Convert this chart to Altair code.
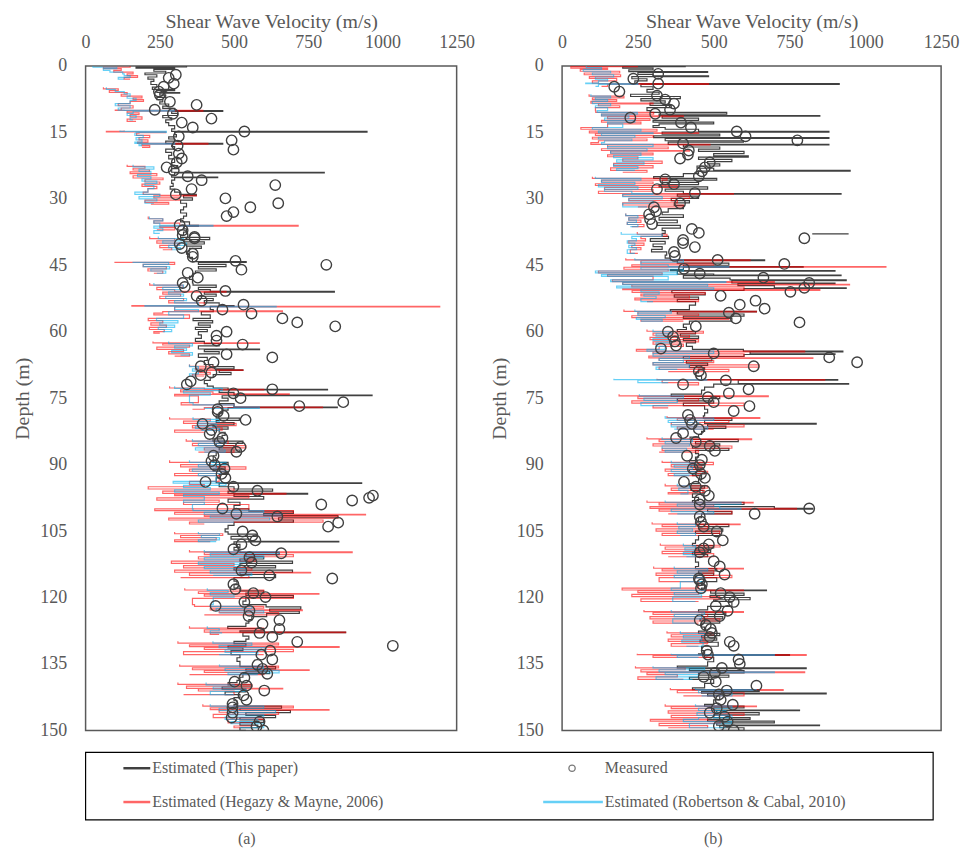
import altair as alt
import pandas as pd

FONT = "Liberation Serif, Times New Roman, serif"
GREY = "#595959"
X_TICKS = [0, 250, 500, 750, 1000, 1250]
Y_TICKS = list(range(0, 151, 15))

# ---------------- Panel (a) ----------------
# (depth m, Vs m/s); None marks a gap in the profile
a_black = [
    (0, 340), (0.2, 170), (0.5, 300), (0.8, 230), (1.2, 270), (1.6, 200), (2, 240), (2.5, 210), (3, 230), (3.5, 220),
    (4.2, 240), (4.8, 225), (5.3, 300), (5.6, 240), (6, 317), (6.15, 250), (6.6, 270), (7.1, 240), (7.6, 260), (8.1, 250),
    (8.6, 280), (9.1, 260), (9.6, 300), (10.1, 462), (10.25, 290), (10.7, 310), (11.2, 260), (11.7, 290), (12.2, 270),
    (12.8, 280), (13.5, 300), (14.2, 290), (14.8, 948), (14.95, 300), (15.5, 306), (16, 280), (16.5, 300), (17, 270),
    (17.5, 462), (17.65, 290), (18.2, 300), (18.8, 270), (19.5, 290), (20.2, 280), (21, 300), (21.8, 290), (22.5, 310),
    (23.2, 290), (24, 804), (24.15, 300), (24.6, 290), (25.1, 445), (25.25, 300), (25.8, 290), (26.5, 295), (27.2, 285),
    (27.8, 300), (28.5, 317), (29, 373), (29.3, 330), (29.8, 360), (30.3, 320), (31, 340), (31.8, 330), (32.5, 320),
    (33.2, 340), (33.9, 330), (34.5, 320), (35.2, 350), (36, 380), (36.15, 330), (36.8, 340), (37.5, 330), (38.2, 320),
    (38.7, 418), (39.2, 330), (39.7, 400), (40.2, 340), (40.7, 390), (41.2, 350), (41.8, 340), (42.5, 350), (43.2, 360),
    (44.2, 541), (44.35, 380), (44.8, 473), (45.3, 380), (45.8, 440), (46.3, 370), (46.8, 362), (47.5, 350), (48.2, 360),
    (49, 362), (49.5, 440), (50, 380), (50.5, 420), (50.9, 838), (51.05, 400), (51.5, 440), (52, 380), (52.5, 430),
    (53, 400), (53.5, 450), (54.1, 500), (54.3, 420), (55, 430), (55.5, 390), (56.2, 420), (57, 362), (57.5, 428),
    (58, 380), (58.5, 420), (59, 370), (59.5, 410), (60, 380), (60.7, 390), (61.5, 370), (62.2, 400), (62.7, 450),
    (63.2, 380), (63.9, 586), (64.05, 400), (64.5, 450), (65, 380), (65.8, 410), (66.5, 400), (67.4, 429), (67.9, 500),
    (68.4, 440), (68.6, 530), (68.75, 450), (69.2, 490), (69.7, 430), (70.3, 420), (71, 400), (71.7, 410), (72.3, 430),
    (72.7, 480), (73, 815), (73.15, 450), (73.7, 500), (74.3, 965), (74.45, 460), (75, 480), (75.6, 450), (76.2, 500),
    (77, 848), (77.15, 480), (77.7, 460), (78.3, 450), (79, 440), (79.5, 518), (80, 440), (80.5, 500), (81, 429),
    (81.5, 480), (82, 450), (82.7, 470), (83.4, 460), (84.2, 429), (84.7, 530), (85.2, 440), (85.7, 500), (86.2, 450),
    (86.7, 520), (87.2, 440), (88, 430), (89, 429), (89.5, 480), (90, 440), (90.5, 470), (91, 430), (91.5, 480),
    (92.2, 450), (93, 440), (94.1, 930), (94.25, 450), (95, 500), (95.5, 630), (96, 480), (96.5, 748), (96.65, 500),
    (97.2, 600), (97.8, 480), (98.5, 520), (99.2, 500), (100, 550), (100.5, 700), (101, 600), (101.5, 850), (102, 650),
    (102.5, 700), (103, 500), (103.7, 480), (104.5, 470), (105.2, 480), (105.7, 575), (106.2, 490), (106.8, 550),
    (107.3, 853), (107.45, 500), (108, 520), (108.7, 500), (109.3, 520), (109.8, 652), (110.3, 540), (110.8, 600),
    (111.3, 520), (111.8, 697), (112.3, 520), (112.8, 640), (113.3, 500), (113.8, 697), (114.3, 520), (114.8, 640),
    (115.5, 500), (116.3, 510), (117.1, 500), (117.9, 520), (118.5, 600), (119, 540), (119.5, 700), (120, 540),
    (120.8, 530), (121.6, 608), (122.1, 725), (122.6, 620), (123.1, 720), (123.6, 610), (124.3, 560), (125, 550),
    (125.8, 540), (126.5, 479), (127, 600), (127.5, 520), (127.8, 876), (127.95, 530), (128.7, 550), (129.4, 540),
    (129.9, 500), (130.4, 540), (130.9, 480), (131.4, 530), (132, 490), (132.9, 520), (133.6, 510), (134.4, 520),
    (135.1, 520), (135.6, 640), (136.1, 540), (136.6, 620), (137.2, 530), (138, 520), (138.7, 510), (139.2, 480),
    (139.7, 560), (140.2, 460), (140.7, 540), (141.3, 470), (141.9, 520), (142.6, 500), (143.3, 510), (144.1, 500),
    (144.5, 660), (145, 520), (145.5, 690), (146, 540), (146.6, 640), (147.1, 520), (147.6, 600), (148.2, 520),
    (148.8, 580), (149.4, 520), (150, 540),
]

a_hegazy = [
    (0, 150), (0.3, 60), (0.6, 120), (1, 95), (1.4, 160), (1.8, 140), (2.2, 175), (2.6, 130), (3, 150), None,
    (4.8, 60), (5.2, 110), (5.6, 80), (6, 140), (6.4, 120), (6.8, 190), (7.2, 160), (7.6, 195), (8, 150), (8.5, 110),
    (9, 160), (9.5, 120), (10, 100), (10.05, 395), (10.2, 140), (10.6, 180), (11, 150), (11.5, 190), (12, 140),
    (12.5, 170), None,
    (14.6, 130), (14.8, 70), (14.9, 270), (15.05, 180), (15.2, 172), (15.7, 216), (16.2, 180), (16.7, 210),
    (17.2, 175), (17.5, 412), (17.65, 190), (18, 216), (18.4, 190), None,
    (22.3, 140), (22.7, 200), (23.1, 160), (23.5, 215), (23.9, 150), (24.3, 240), (24.8, 160), (25.3, 261),
    (25.7, 200), (26.2, 250), (26.7, 190), (27.2, 240), (27.7, 210), (28.5, 194), (29, 250), (29.2, 373),
    (29.35, 230), (29.8, 317), (30.3, 200), (30.8, 280), (31.2, 220), None,
    (34, 211), (34.5, 260), (35, 230), (35.5, 317), (36, 716), (36.15, 250), (36.5, 300), (37, 240), None,
    (38.5, 216), (39, 300), (39.5, 240), (40, 317), (40.5, 250), (41, 290), (41.5, 260), None,
    (44.2, 99), (44.35, 300), (44.8, 194), (45.3, 272), (45.8, 210), (46.3, 260), (46.8, 230), None,
    (49, 216), (49.5, 328), (50, 240), (50.5, 300), (50.9, 473), (51.05, 260), (51.5, 320), (52, 250), (52.5, 330),
    (53, 280), (53.5, 400), (54.1, 156), (54.25, 1193), (54.4, 300), (55.3, 663), (55.45, 260), (55.8, 230),
    (56.2, 350), (57, 211), (57.5, 260), (58, 220), (58.5, 272), (59, 215), (59.5, 265), (60, 230), (60.3, 250), None,
    (62.2, 227), (62.5, 585), (62.65, 260), (63, 350), (63.5, 240), (64, 330), (64.5, 280), (65, 350), (65.5, 300), None,
    (67.4, 350), (67.8, 429), (68.2, 370), (68.6, 530), (68.75, 380), (69.2, 420), (69.6, 360), (70, 400), None,
    (72.3, 283), (72.7, 400), (73, 600), (73.15, 320), (73.6, 429), (74, 686), (74.15, 300), (74.5, 380),
    (76, 322), (76.5, 500), (77, 798), (77.15, 400), (77.5, 360), None,
    (79.3, 283), (79.7, 420), (80.2, 330), (80.7, 507), (81.2, 360), (81.7, 460), (82.2, 300), (82.7, 400), None,
    (84.2, 339), (84.7, 480), (85.2, 360), (85.7, 540), (86.2, 400), (86.7, 500), (87.2, 380), None,
    (89, 283), (89.5, 420), (90, 320), (90.5, 540), (91, 350), (91.5, 470), (92, 300), (92.5, 450), (93.8, 350),
    (94.5, 400), (95, 211), (95.5, 500), (96, 260), (96.5, 675), (96.65, 300), (97, 550), (97.5, 240), (98, 450),
    (98.5, 330), (99, 550), (100, 233), (100.4, 700), (100.8, 300), (101.2, 943), (101.35, 400), (101.7, 850),
    (102.1, 280), (102.5, 800), (103, 350), (103.4, 400), None,
    (105.2, 300), (105.6, 462), (106, 320), (106.5, 440), (107, 300), (107.4, 420), None,
    (109.3, 350), (109.7, 898), (109.85, 400), (110.3, 700), (110.8, 380), (111.3, 574), (111.8, 289), (112.3, 500),
    (112.8, 330), (113.3, 560), (113.8, 300), (114.3, 758), (114.45, 350), (115, 550), (115.5, 320), None,
    (117.9, 334), (118.3, 600), (118.7, 380), (119.1, 786), (119.25, 400), (119.7, 700), (120.2, 360),
    (121.6, 367), (122, 600), (122.4, 420), (122.8, 730), (122.95, 450), (123.4, 650), (123.9, 400), None,
    (126.5, 350), (126.9, 600), (127.3, 400), (127.8, 876), (127.95, 420), (128.3, 450), None,
    (129.9, 311), (130.3, 650), (130.7, 350), (131.1, 854), (131.25, 400), (131.7, 700), (132.2, 330), (132.9, 600), None,
    (135.1, 317), (135.5, 650), (135.9, 360), (136.3, 753), (136.45, 400), (136.9, 600), (137.4, 350), None,
    (139.2, 311), (139.6, 560), (140, 340), (140.5, 664), (140.65, 380), (141.1, 500), (141.9, 330), None,
    (144.1, 395), (144.5, 700), (144.9, 420), (145.3, 820), (145.45, 450), (145.9, 650), (146.4, 430), (147.1, 600),
    (147.5, 480), (148.3, 560), (149, 500), (149.4, 520),
]

a_robertson = [
    (0, 25), (0.3, 105), (0.6, 60), (1, 82), (1.4, 125), (1.8, 130), (2.2, 150), (2.6, 110), (3, 130), None,
    (4.8, 70), (5.3, 100), (5.8, 130), (6.3, 150), (6.8, 140), (7.3, 170), (7.8, 150), (8.5, 100), (9, 150),
    (9.5, 110), (10, 130), (10.05, 300), (10.2, 160), (10.7, 140), (11.2, 170), (11.7, 150), (12.2, 160), None,
    (14.6, 116), (14.8, 272), (15, 170), (15.2, 166), (15.7, 194), (16.2, 170), (16.7, 190), (17.2, 166),
    (17.5, 300), (17.65, 180), (18, 190), None,
    (22.3, 160), (22.8, 230), (23.3, 180), (23.8, 220), (24.5, 175), (25, 220), (25.5, 190), (26, 240), (26.5, 200),
    (27, 230), (27.7, 210), (28.5, 166), (29, 250), (29.5, 180), (30, 240), (30.5, 200), (31, 230), None,
    (34, 215), (34.5, 260), (35, 230), (35.5, 250), (36, 429), (36.15, 230), (36.6, 260), (37.2, 230), (37.8, 250), None,
    (38.5, 245), (39, 330), (39.5, 260), (40, 340), (40.5, 280), (41, 320), (41.5, 290), None,
    (44.2, 160), (44.35, 280), (44.8, 194), (45.3, 283), (45.8, 220), (46.3, 270), (46.8, 240), None,
    (49, 230), (49.5, 330), (50, 260), (50.5, 320), (51, 280), (51.5, 330), (52, 270), (52.5, 340), (53, 300),
    (53.5, 380), (54.1, 200), (54.25, 642), (54.4, 300), (55, 380), (55.5, 280), (56.2, 330), (57, 239), (57.5, 311),
    (58, 250), (58.5, 300), (59, 245), (59.5, 290), (60, 260), None,
    (62.2, 280), (62.7, 360), (63.2, 300), (63.7, 340), (64.2, 290), (64.7, 360), (65.3, 320), None,
    (67.4, 350), (67.9, 380), (68.4, 360), (68.9, 380), (69.5, 350), (70, 370), None,
    (72.3, 300), (72.8, 460), (73.3, 330), (73.8, 420), (74.3, 350), (76, 362), (76.5, 500), (77, 585), (77.3, 400), None,
    (79.3, 362), (79.8, 451), (80.3, 380), (80.8, 440), (81.3, 370), (81.8, 451), (82.3, 390), None,
    (84.2, 360), (84.7, 473), (85.2, 380), (85.7, 460), (86.2, 370), (86.7, 470), (87.2, 400), None,
    (89, 350), (89.5, 473), (90, 380), (90.5, 440), (91, 360), (91.5, 473), (92, 380), (92.5, 440), (93.8, 295),
    (94.2, 473), (94.7, 330), (95.2, 420), (95.7, 300), (96.2, 450), (96.7, 330), (97.2, 400), (98, 330), (98.5, 400),
    (99, 360), (100, 362), (100.4, 600), (100.8, 400), (101.2, 663), (101.6, 420), (102, 620), (102.5, 380),
    (103, 500), None,
    (105.2, 380), (105.6, 451), (106, 390), (106.5, 451), (107, 380), (107.4, 440), None,
    (109.3, 400), (109.7, 652), (110.1, 420), (110.6, 600), (111, 400), (111.5, 540), (112, 380), (112.5, 520),
    (113, 400), (113.5, 540), (114, 420), (114.5, 560), (115, 430), None,
    (117.9, 410), (118.4, 480), (118.9, 420), (119.4, 500), (119.9, 430), (121.6, 420), (122, 560), (122.5, 440),
    (123, 600), (123.5, 450), None,
    (126.5, 410), (127, 450), (127.5, 420), (128, 460), None,
    (129.9, 429), (130.3, 560), (130.8, 450), (131.3, 608), (131.8, 470), (132.4, 580), (132.9, 450), None,
    (135.1, 451), (135.5, 600), (136, 470), (136.5, 652), (137, 480), (137.4, 580), None,
    (139.2, 406), (139.7, 500), (140.2, 430), (140.7, 540), (141.2, 420), (141.9, 500), None,
    (144.1, 420), (144.5, 600), (145, 450), (145.5, 640), (146, 480), (146.5, 600), (147, 470), (147.5, 580),
    (148, 490), (148.5, 600), (149.4, 520),
]

a_meas_depth = [
    2.0, 2.7, 4.0, 4.7, 5.8, 6.5, 8.1, 8.8, 9.9, 10.8, 11.9, 12.8, 13.9, 14.8, 15.9, 16.8, 18.9, 18.0, 19.8, 20.9,
    21.8, 22.9, 23.6, 24.9, 25.8, 27.8, 29.0, 26.9, 31.0, 29.9, 31.9, 33.0, 33.9, 35.9, 37.1, 38.6, 38.2, 38.9,
    40.2, 41.1, 42.4, 43.1, 44.0, 46.0, 46.7, 47.8, 49.0, 49.9, 50.8, 51.9, 53.0, 53.9, 55.0, 55.9, 60.0, 60.9,
    62.0, 62.9, 65.8, 65.1, 66.9, 67.8, 69.8, 69.2, 71.2, 71.9, 73.0, 73.9, 75.0, 77.5, 44.9, 57.0, 57.9, 58.8,
    76.8, 75.9, 78.1, 79.0, 79.9, 80.8, 82.2, 83.1, 84.0, 84.9, 86.0, 87.1, 88.0, 89.2, 90.1, 90.9, 92.1, 93.0,
    93.9, 95.0, 95.9, 99.0, 98.1, 97.5, 97.0, 99.9, 101.1, 101.7, 103.1, 104.0, 105.1, 106.0, 107.1, 108.0,
    109.1, 110.0, 110.9, 112.1, 113.9, 115.0, 115.7, 117.0, 118.1, 119.0, 119.9, 121.0, 121.9, 123.0, 124.2,
    125.1, 126.0, 127.1, 128.0, 128.9, 130.0, 130.9, 132.0, 132.9, 134.0, 135.2, 136.1, 137.2, 138.1, 139.0,
    139.9, 141.0, 142.1, 143.1, 144.0, 144.8, 146.0, 147.1, 148.0, 149.1, 150.0,
]
a_meas_vs = [
    304, 280, 297, 263, 247, 250, 284, 374, 233, 294, 424, 324, 361, 535, 314, 492, 498, 310, 314, 324,
    307, 273, 297, 344, 391, 357, 304, 639, 649, 471, 555, 498, 475, 317, 327, 367, 327, 367,
    317, 324, 361, 361, 505, 525, 344, 378, 327, 334, 471, 374, 391, 532, 461, 559, 475, 441,
    441, 529, 629, 475, 431, 388, 388, 424, 354, 341, 629, 498, 522, 445, 811, 663, 713, 841,
    720, 868, 445, 465, 539, 394, 424, 418, 461, 451, 522, 508, 431, 424, 435, 468, 458, 471,
    404, 498, 579, 794, 898, 955, 968, 461, 508, 646, 851, 817, 529, 562, 572, 525,
    498, 659, 552, 559, 525, 619, 831, 498, 505, 565, 606, 535, 438, 552, 549,
    653, 596, 653, 586, 629, 713, 1035, 622, 592, 629, 579, 596, 612, 535, 502,
    542, 602, 532, 542, 495, 495, 495, 492, 586, 576, 599,
]

# ---------------- Panel (b) ----------------
b_black = [
    (0, 406), (0.15, 200), (0.5, 300), (0.9, 220), (1.3, 480), (1.45, 250), (1.9, 300), (2.25, 483), (2.4, 230),
    (2.9, 280), (3.4, 240), (4, 914), (4.15, 260), (4.7, 300), (5.3, 280), (5.9, 320), (6.4, 226), (6.9, 390),
    (7.4, 260), (7.9, 340), (8.4, 290), (8.9, 360), (9.4, 280), (10.1, 291), (10.5, 543), (10.9, 320), (11.2, 850),
    (11.35, 330), (11.8, 450), (12.3, 300), (12.7, 500), (13.1, 320), (13.5, 300), (13.9, 340), (14.3, 450),
    (14.8, 880), (14.95, 330), (15.4, 520), (15.8, 302), (16.2, 880), (16.35, 340), (16.9, 598), (17.2, 350),
    (17.7, 880), (17.85, 400), (18.3, 520), (18.8, 450), (19.3, 600), (19.8, 500), (20.3, 614), (20.6, 450),
    (21.1, 560), (21.6, 480), (22.1, 520), (22.6, 445), (23.1, 500), (23.6, 950), (23.75, 450), (24.3, 400),
    (25, 302), (25.4, 510), (25.8, 330), (26.3, 450), (26.8, 320), (27.3, 480), (27.8, 340), (28.3, 400),
    (28.8, 920), (28.95, 380), (29.4, 450), (29.9, 360), (30.4, 420), (30.9, 370), (31.5, 400), (32.2, 350),
    (33, 330), (33.6, 400), (34.2, 320), (34.8, 380), (35.4, 313), (36, 390), (36.6, 330), (37.2, 340), (37.8, 330),
    (38.5, 351), (39, 291), (39.6, 340), (40.2, 300), (40.8, 330), (41.4, 295), (42, 345), (42.7, 340), (43.4, 357),
    (43.8, 668), (43.95, 380), (44.5, 550), (45, 400), (45.3, 795), (45.45, 400), (46, 357), (46.2, 900),
    (46.35, 380), (47, 500), (47.2, 920), (47.35, 400), (47.9, 554), (48.3, 937), (48.45, 560), (49, 900),
    (49.15, 580), (49.6, 700), (50.1, 937), (50.25, 600), (50.7, 362), (51.2, 472), (51.7, 370), (52.2, 450),
    (52.7, 380), (53.2, 440), (54, 420), (55, 357), (55.4, 641), (55.55, 380), (56, 600), (56.5, 400), (57, 560),
    (57.6, 420), (58.3, 400), (59, 410), (59.5, 380), (60, 440), (60.5, 390), (61, 450), (61.5, 400), (62, 440),
    (62.5, 410), (63.3, 430), (64, 598), (64.4, 926), (64.55, 620), (65, 900), (65.15, 600), (65.6, 400),
    (66.1, 494), (66.6, 410), (67.1, 480), (67.6, 420), (68.1, 470), (68.5, 450), (69.3, 440), (70, 460),
    (70.8, 909), (70.95, 581), (71.7, 945), (71.85, 500), (72.5, 470), (73.2, 460), (74.1, 360), (74.6, 520),
    (75.1, 380), (75.6, 500), (76.1, 400), (76.7, 470), (77.5, 480), (78.3, 470), (79, 466), (79.5, 560), (80, 470),
    (80.7, 838), (80.85, 480), (81.3, 540), (81.8, 470), (82.5, 460), (83.2, 450), (83.8, 422), (84.3, 581),
    (84.8, 440), (85.3, 520), (85.8, 430), (86.3, 550), (86.8, 440), (87.5, 450), (88.3, 440), (89.1, 420),
    (89.6, 470), (90.1, 425), (90.6, 465), (91.1, 420), (91.6, 470), (92.1, 430), (92.5, 460), (93.4, 450),
    (94.3, 420), (94.8, 470), (95.3, 425), (95.8, 465), (96.6, 430), (97.4, 450), (98.1, 430), (98.5, 600),
    (99, 455), (99.5, 700), (99.9, 827), (100.05, 480), (100.6, 560), (101.1, 460), (102, 450), (103, 440),
    (103.5, 550), (104, 450), (104.5, 530), (105, 440), (105.5, 520), (106, 450), (107, 440), (107.8, 430),
    (108.3, 500), (108.8, 440), (109.3, 490), (109.8, 430), (110.3, 480), (110.8, 440), (112, 450), (113, 440),
    (113.5, 510), (114, 450), (114.5, 500), (115, 440), (115.5, 510), (116.4, 460), (117.2, 470), (117.9, 460),
    (118.3, 674), (118.45, 490), (119, 600), (119.5, 488), (120, 620), (120.5, 500), (120.9, 560), (122, 480),
    (122.8, 450), (123.3, 540), (123.8, 460), (124.3, 530), (124.8, 455), (125.3, 520), (125.8, 460), (126.7, 470),
    (127.6, 450), (128.1, 520), (128.6, 460), (129.1, 510), (129.6, 455), (130.1, 515), (131, 460), (132, 470),
    (132.7, 450), (132.9, 750), (133.05, 470), (133.5, 500), (134.5, 480), (135.5, 380), (135.9, 805),
    (136.05, 420), (136.5, 600), (137, 450), (137.5, 550), (138, 420), (138.5, 500), (139.4, 470), (140.4, 430),
    (140.8, 650), (141.2, 460), (141.6, 871), (141.75, 480), (142.2, 520), (143.1, 500), (144.1, 470), (144.5, 600),
    (144.9, 500), (145.4, 783), (145.55, 510), (146, 650), (146.5, 500), (147.1, 620), (147.5, 480), (147.9, 700),
    (148.3, 510), (148.8, 849), (148.95, 520), (149.4, 600), (150, 520), None,
    (37.8, 827), (37.9, 945),
]

b_hegazy = [
    (0, 248), (0.15, 29), (0.5, 150), (0.8, 60), (1.2, 190), (1.6, 73), (2, 193), (2.4, 90), (2.8, 180), (3.4, 100),
    (3.9, 120), (4, 483), (4.15, 150), (4.6, 130), None,
    (6.4, 89), (6.8, 204), (7.2, 100), (7.6, 180), (8, 95), (8.4, 300), (8.55, 120), (9, 190), (9.4, 110),
    (10.1, 111), (10.5, 302), (10.9, 130), (11.3, 400), (11.45, 150), (11.9, 290), (12.3, 130), (12.7, 260),
    (13.1, 150), (13.9, 62), (14.3, 313), (14.7, 90), (15.1, 450), (15.25, 110), (15.7, 300), (16.1, 100),
    (16.5, 280), (16.9, 120), (17.3, 95), (17.7, 488), (17.85, 150), (18.3, 350), (18.7, 130), (19.1, 420),
    (19.25, 160), (19.7, 300), (20.1, 150), (20.5, 250), (21, 200), (21.5, 330), (22, 170), (22.5, 300), (23, 160),
    (23.6, 280), (24, 200), None,
    (25, 100), (25.4, 346), (25.8, 130), (26.2, 300), (26.6, 110), (27, 380), (27.4, 140), (27.9, 300), (28.3, 120),
    (28.8, 565), (28.95, 200), (29.4, 420), (29.9, 220), (30.4, 380), (30.9, 200), (31.4, 400), (31.8, 250), None,
    (33.3, 210), (33.8, 270), (34.3, 220), (34.8, 260), (35.3, 215), (35.8, 270), (36.3, 230), None,
    (37.5, 248), (38, 346), (38.5, 260), (39, 275), (39.5, 220), (40, 270), (40.5, 230), (41, 260), (41.5, 225),
    (42.3, 250), None,
    (43.4, 210), (43.8, 620), (43.95, 260), (44.5, 500), (44.9, 230), (45.3, 1068), (45.45, 204), (45.9, 350),
    (46.3, 120), (46.7, 330), (47.1, 150), (47.5, 300), (48.3, 166), (48.7, 700), (48.85, 200), (49.3, 948),
    (49.45, 230), (49.9, 600), (50.3, 200), (50.5, 850), (50.65, 231), (51.1, 472), (51.5, 260), (51.9, 420),
    (52.4, 240), (52.8, 450), (53.2, 280), None,
    (55, 204), (55.4, 641), (55.55, 250), (56, 450), (56.4, 230), (56.8, 550), (57.2, 260), (57.6, 400), None,
    (59.5, 280), (59.9, 466), (60.3, 300), (60.8, 420), (61.3, 290), (61.8, 450), (62.3, 300), (62.8, 400),
    (63.3, 320), (64, 245), (64.4, 800), (64.55, 300), (65, 600), (65.5, 286), (65.9, 827), (66.05, 320), (66.5, 500),
    (67, 300), (67.5, 650), (68, 320), (68.5, 550), (69, 350), None,
    (70.6, 313), (70.8, 866), (70.95, 330), (71.5, 450), (72, 380), None,
    (74.1, 188), (74.5, 680), (74.65, 250), (75.1, 450), (75.6, 230), (76.1, 600), (76.7, 300), (77.2, 350), None,
    (79, 346), (79.4, 652), (79.55, 380), (80, 550), (80.5, 360), (81, 600), (81.5, 380), (82, 500), None,
    (83.8, 280), (84.2, 625), (84.35, 320), (84.8, 500), (85.3, 300), (85.8, 560), (86.3, 330), (86.8, 450),
    (87.2, 320), None,
    (89.1, 330), (89.5, 499), (90, 360), (90.5, 460), (91, 340), (91.5, 480), (92, 350), (92.5, 450), None,
    (94.3, 340), (94.8, 480), (95.3, 360), (95.8, 470), (96.3, 350), (96.6, 430), None,
    (98.1, 280), (98.5, 630), (98.65, 320), (99.1, 500), (99.5, 290), (99.9, 773), (100.05, 320), (100.5, 560),
    (101.1, 350), None,
    (103, 297), (103.4, 587), (103.55, 330), (104, 480), (104.5, 310), (105, 520), (105.5, 330), (106, 450), None,
    (107.8, 324), (108.2, 521), (108.6, 340), (109.1, 480), (109.6, 330), (110.1, 500), (110.8, 350), None,
    (113, 302), (113.4, 598), (113.55, 330), (114, 500), (114.5, 310), (115, 560), (115.5, 320), (116.4, 450),
    (117.9, 198), (118.3, 598), (118.45, 250), (118.9, 450), (119.3, 230), (119.8, 520), (120.3, 260), (120.9, 450), None,
    (122.8, 270), (123.2, 598), (123.35, 300), (123.8, 480), (124.3, 290), (124.8, 520), (125.3, 300), (125.8, 450), None,
    (127.6, 346), (128, 499), (128.4, 360), (128.9, 470), (129.4, 350), (129.9, 480), (130.4, 360), (131, 450), None,
    (132.7, 248), (132.9, 805), (133.05, 300), (133.5, 500), None,
    (135.5, 242), (135.9, 406), (136.3, 260), (136.8, 800), (136.95, 280), (137.4, 380), (137.9, 250), (138.5, 400), None,
    (140.4, 357), (140.8, 729), (140.95, 380), (141.5, 600), (142.2, 400), None,
    (144.1, 340), (144.5, 641), (144.65, 360), (145.1, 500), (145.6, 350), (146.1, 600), (146.6, 360), (147.1, 480),
    (147.5, 291), (147.9, 521), (148.4, 320), (148.9, 480), (149.4, 350),
]

b_robertson = [
    (0, 80), (0.4, 130), (0.8, 70), (1.2, 160), (1.6, 100), (2, 170), (2.5, 110), (3, 150), (3.4, 120), (3.9, 78),
    (4, 250), (4.15, 120), (4.6, 110), None,
    (6.4, 95), (6.8, 160), (7.2, 110), (7.6, 150), (8, 100), (8.5, 160), (9, 110), (9.4, 150), (10.1, 116),
    (10.5, 248), (10.9, 130), (11.3, 220), (11.8, 140), (12.3, 240), (12.7, 150), (13.1, 200), (13.9, 100),
    (14.3, 260), (14.7, 120), (15.1, 300), (15.25, 130), (15.7, 240), (16.1, 120), (16.5, 230), (16.9, 140),
    (17.3, 130), (17.7, 300), (18.2, 150), (18.7, 280), (19.2, 160), (19.7, 260), (20.2, 170), (20.7, 300),
    (21.2, 180), (21.7, 270), (22.2, 170), (22.7, 250), (23.2, 180), (23.6, 240), None,
    (25, 110), (25.4, 260), (25.8, 130), (26.3, 240), (26.8, 120), (27.3, 250), (27.8, 140), (28.3, 230),
    (28.8, 300), (29, 200), (29.5, 330), (30, 220), (30.5, 300), (31, 200), (31.8, 280), None,
    (33.3, 210), (33.8, 250), (34.3, 220), (34.8, 245), (35.3, 215), (35.8, 250), (36.3, 225), None,
    (37.5, 195), (38, 330), (38.5, 230), (39, 245), (39.5, 215), (40, 240), (40.5, 220), (41, 245), (41.5, 215),
    (42.3, 240), None,
    (43.4, 240), (43.8, 400), (44.3, 260), (44.9, 350), (45.3, 550), (45.45, 260), (45.9, 400), (46.3, 110),
    (46.7, 380), (47.1, 130), (47.5, 350), (48.3, 160), (48.7, 540), (48.85, 200), (49.3, 480), (49.7, 180),
    (50.1, 500), (50.5, 260), (51, 320), (51.5, 270), (52, 310), (52.5, 260), (53.2, 300), None,
    (55, 240), (55.4, 360), (55.8, 250), (56.3, 340), (56.8, 245), (57.2, 330), (57.6, 260), None,
    (59.5, 300), (60, 360), (60.5, 310), (61, 350), (61.5, 300), (62, 360), (62.5, 310), (63.3, 340), (64, 280),
    (64.4, 500), (64.9, 300), (65.5, 420), (66, 320), (66.5, 400), (67, 300), (67.5, 420), (68, 310), (68.5, 380), None,
    (70.6, 171), (70.8, 477), (70.95, 250), (71.5, 350), None,
    (74.1, 255), (74.5, 400), (75, 270), (75.5, 380), (76, 260), (76.7, 350), None,
    (79, 340), (79.5, 500), (80, 350), (80.5, 450), (81, 360), (81.5, 480), (82, 370), None,
    (83.8, 330), (84.3, 430), (84.8, 340), (85.3, 420), (85.8, 330), (86.3, 410), (86.8, 340), (87.2, 400), None,
    (89.1, 360), (89.6, 440), (90.1, 370), (90.6, 430), (91.1, 360), (91.6, 440), (92.1, 370), (92.5, 420), None,
    (94.3, 380), (94.8, 420), (95.3, 385), (95.8, 415), (96.6, 390), None,
    (98.1, 340), (98.5, 590), (98.9, 380), (99.4, 520), (99.9, 590), (100.05, 360), (100.6, 500), (101.1, 380), None,
    (103, 380), (103.5, 440), (104, 385), (104.5, 430), (105, 380), (105.5, 440), (106, 390), None,
    (107.8, 400), (108.3, 440), (108.8, 405), (109.3, 435), (109.8, 400), (110.3, 440), (110.8, 410), None,
    (113, 370), (113.5, 480), (114, 380), (114.5, 460), (115, 370), (115.5, 470), (116.4, 390), (117.9, 360),
    (118.4, 470), (118.9, 370), (119.4, 460), (119.9, 365), (120.9, 440), None,
    (122.8, 360), (123.3, 470), (123.8, 370), (124.3, 460), (124.8, 365), (125.8, 440), None,
    (127.6, 390), (128.1, 470), (128.6, 400), (129.1, 460), (129.6, 395), (130.1, 465), (131, 410), None,
    (132.7, 360), (132.9, 700), (133.05, 380), (133.5, 450), None,
    (135.5, 300), (135.9, 470), (136.3, 320), (136.8, 700), (136.95, 340), (137.4, 450), (137.9, 310), (138.5, 430), None,
    (140.4, 440), (140.8, 640), (140.95, 450), (141.5, 560), (142.2, 460), None,
    (144.1, 440), (144.5, 560), (145, 450), (145.5, 540), (146, 445), (146.6, 560), (147.1, 450), (147.5, 400),
    (148, 560), (148.5, 420), (149.4, 540),
]

b_meas_depth = [
    1.8, 2.9, 4.0, 4.7, 5.8, 6.7, 7.6, 8.5, 9.9, 10.8, 11.7, 12.8, 13.9, 14.8, 15.9, 17.5, 19.1, 20.0, 20.9, 21.8,
    22.9, 23.8, 24.9, 25.6, 26.7, 27.8, 28.7, 31.0, 31.9, 32.8, 33.5, 34.6, 35.7, 36.8, 37.7, 39.3, 38.9, 40.0,
    40.9, 42.0, 42.9, 43.8, 44.7, 45.8, 46.9, 47.8, 49.0, 50.1, 51.0, 51.9, 53.0, 53.9, 54.8, 55.7, 57.0, 57.9,
    58.8, 60.0, 61.1, 62.2, 63.1, 63.8, 64.9, 65.8, 66.9, 67.8, 68.9, 69.8, 71.0, 71.9, 73.0, 73.9, 74.8, 75.9,
    76.8, 77.9, 78.8, 79.9, 80.8, 82.0, 82.9, 84.0, 84.9, 85.8, 86.9, 88.0, 88.9, 90.1, 90.9, 92.1, 93.0, 93.9,
    95.0, 95.9, 97.0, 97.9, 99.0, 99.9, 101.1, 101.7, 102.9, 104.0, 105.1, 107.1, 108.0, 108.9, 109.8, 111.8,
    113.0, 114.8, 115.7, 116.1, 117.0, 117.9, 119.0, 119.9, 121.0, 121.9, 123.0, 124.2, 125.1, 126.2, 127.1,
    128.0, 128.9, 130.0, 130.9, 132.0, 132.9, 134.0, 135.0, 135.9, 137.0, 137.9, 139.0, 139.9, 141.0, 141.9,
    143.1, 144.2, 145.0, 146.0, 146.9, 148.0, 149.0, 150.0, 16.8,
]
b_meas_vs = [
    317, 235, 317, 172, 189, 313, 340, 369, 356, 307, 225, 392, 425, 576, 605, 399, 418, 415, 389, 487,
    471, 461, 451, 340, 369, 313, 438, 389, 303, 310, 287, 290, 297, 428, 451, 399, 799, 399,
    438, 369, 372, 513, 733, 402, 454, 664, 815, 799, 753, 523, 638, 586, 668, 550, 573, 783,
    441, 349, 366, 372, 376, 326, 500, 881, 973, 632, 451, 458, 540, 399, 615, 550, 481, 500,
    618, 566, 415, 422, 428, 451, 399, 376, 441, 487, 504, 412, 461, 454, 431, 458, 471, 402,
    441, 471, 484, 454, 454, 815, 635, 454, 458, 467, 510, 530, 484, 467, 454, 500,
    520, 536, 451, 454, 461, 458, 523, 553, 566, 507, 546, 520, 454, 474, 490,
    494, 487, 553, 566, 477, 481, 582, 586, 527, 504, 467, 507, 641, 543, 517,
    523, 563, 510, 487, 536, 546, 517, 566, 776,
]

legend_labels = [
    "Estimated (This paper)",
    "Measured",
    "Estimated (Hegazy & Mayne, 2006)",
    "Estimated (Robertson & Cabal, 2010)",
]

BLACK = "#404040"
RED = "#ff0000"
BLUE = "#00b0f0"


def profile_df(rows, name):
    recs, seg = [], 0
    for r in rows:
        if r is None:
            seg += 1
            continue
        recs.append({"depth": r[0], "vs": r[1], "seg": f"{name}{seg}"})
    return pd.DataFrame(recs)


def one(text):
    return pd.DataFrame({"t": [text]})


def panel(black, hegazy, robertson, md, mv, width, tag, extra):
    xs = alt.Scale(domain=[0, 1250], nice=False, zero=False)
    ys = alt.Scale(domain=[0, 150], reverse=True, nice=False, zero=False)
    common = dict(ticks=False, domain=False, grid=False, labelFlush=False, labelOverlap=False,
                  labelFont=FONT, titleFont=FONT, labelFontSize=18, titleFontSize=20,
                  labelColor=GREY, titleColor=GREY, titleFontWeight="normal", format="d")
    xax = alt.Axis(orient="top", values=X_TICKS, title="Shear Wave Velocity (m/s)",
                   labelPadding=14, titlePadding=3, **common)
    yax = alt.Axis(values=Y_TICKS, title="Depth (m)", labelPadding=19, titlePadding=7, **common)

    def line(rows, name, color, opacity):
        return alt.Chart(profile_df(rows, tag + name)).mark_line(
            interpolate="step-before", color=color, opacity=opacity, strokeWidth=1.2, clip=True
        ).encode(
            x=alt.X("vs:Q", scale=xs, axis=xax),
            y=alt.Y("depth:Q", scale=ys, axis=yax),
            detail="seg:N",
            order="depth:Q",
        )

    k = line(black, "k", BLACK, 1.0)
    r = line(hegazy, "r", RED, 0.6)
    b = line(robertson, "b", BLUE, 0.6)
    m = alt.Chart(pd.DataFrame({"depth": md, "vs": mv})).mark_point(
        shape="circle", filled=False, size=110, color=BLACK, strokeWidth=1.4, opacity=1, clip=True
    ).encode(x=alt.X("vs:Q", scale=xs, axis=xax), y=alt.Y("depth:Q", scale=ys, axis=yax))
    return alt.layer(k, r, b, m, *extra).properties(width=width, height=668)


def txt(text, x, y, align="left", size=16):
    return alt.Chart(one(text)).mark_text(
        align=align, baseline="middle", font=FONT, fontSize=size, color=GREY
    ).encode(x=alt.value(x), y=alt.value(y), text="t:N")


def sample(color, x1, x2, y, opacity):
    return alt.Chart(one("s")).mark_rule(color=color, strokeWidth=2.5, opacity=opacity).encode(
        x=alt.value(x1), x2=alt.value(x2), y=alt.value(y)
    )


legend_layers = [
    alt.Chart(one("box")).mark_rect(fillOpacity=0, stroke="#000000", strokeWidth=1.2).encode(
        x=alt.value(0), x2=alt.value(852), y=alt.value(690), y2=alt.value(758)
    ),
    sample(BLACK, 38, 65, 706, 1.0),
    txt(legend_labels[0], 67, 706),
    alt.Chart(one("o")).mark_point(shape="circle", filled=False, size=40, color=BLACK, strokeWidth=1.3).encode(
        x=alt.value(489), y=alt.value(706)
    ),
    txt(legend_labels[1], 522, 706),
    sample(RED, 38, 65, 740, 0.6),
    txt(legend_labels[2], 67, 740),
    sample(BLUE, 460, 520, 740, 0.6),
    txt(legend_labels[3], 522, 740),
    txt("(a)", 162, 777, "center"),
]

pa = panel(a_black, a_hegazy, a_robertson, a_meas_depth, a_meas_vs, 373, "a", legend_layers)
pb = panel(b_black, b_hegazy, b_robertson, b_meas_depth, b_meas_vs, 381, "b", [txt("(b)", 152, 777, "center")])

chart = alt.hconcat(pa, pb, spacing=106, bounds="flush").properties(
    padding={"left": 4, "top": 0, "right": 0, "bottom": 0}
).configure_view(stroke=GREY, strokeWidth=1.5)

chart.save("out.html", embed_options={"renderer": "svg", "actions": False})
